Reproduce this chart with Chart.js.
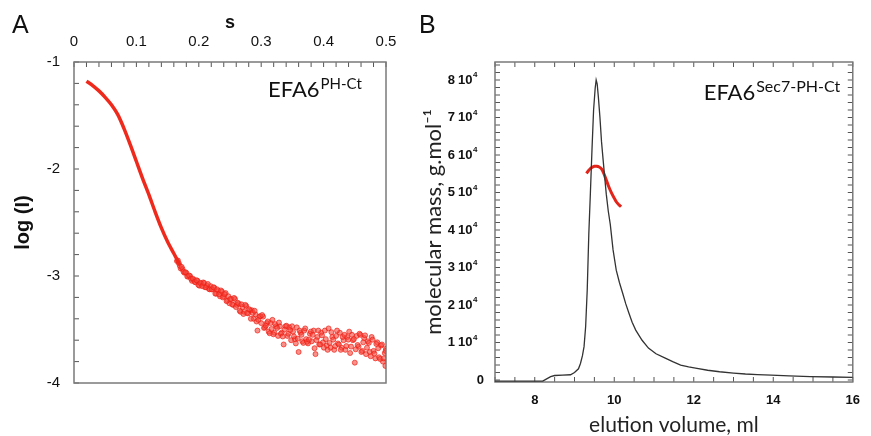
<!DOCTYPE html>
<html>
<head>
<meta charset="utf-8">
<script src="https://cdn.jsdelivr.net/npm/chart.js@4"></script>
<style>
  body { margin: 0; width: 871px; height: 436px; overflow: hidden; background: #fff; position: relative; }
  canvas { position: absolute; top: 0; }
  #chartA { left: 0; }
  #chartB { left: 420px; }
  .panel { position: absolute; font: 25px 'Liberation Sans', Arial, sans-serif; color: #111; }
</style>
</head>
<body>
<canvas id="chartA" width="410" height="436"></canvas>
<canvas id="chartB" width="451" height="440"></canvas>
<div class="panel" style="left:12px;top:10px">A</div>
<div class="panel" style="left:419px;top:10px">B</div>
<script>
// panel A - SAXS curve
const sTicks = [0, 0.1, 0.2, 0.3, 0.4, 0.5];
const logTicks = [-4, -3, -2, -1];

const sLine = [0.02, 0.03, 0.04, 0.05, 0.06, 0.07, 0.08, 0.09, 0.10, 0.11, 0.12, 0.13, 0.14, 0.15, 0.16, 0.17];
const logLine = [-1.18, -1.22, -1.27, -1.33, -1.40, -1.49, -1.62, -1.77, -1.93, -2.09, -2.24, -2.40, -2.55, -2.68, -2.79, -2.90];

const sDots = [
  0.165, 0.168, 0.171, 0.174, 0.177, 0.180, 0.183, 0.186, 0.189, 0.192,
  0.195, 0.198, 0.201, 0.204, 0.207, 0.210, 0.213, 0.216, 0.219, 0.222,
  0.225, 0.228, 0.231, 0.234, 0.237, 0.240, 0.243, 0.246, 0.249, 0.252,
  0.255, 0.258, 0.261, 0.264, 0.267, 0.270, 0.273, 0.276, 0.279, 0.282,
  0.285, 0.288, 0.291, 0.294, 0.297, 0.300, 0.303, 0.306, 0.309, 0.312,
  0.315, 0.318, 0.321, 0.324, 0.327, 0.330, 0.333, 0.336, 0.339, 0.342,
  0.345, 0.348, 0.351, 0.354, 0.357, 0.360, 0.363, 0.366, 0.369, 0.372,
  0.375, 0.378, 0.381, 0.384, 0.387, 0.390, 0.393, 0.396, 0.399, 0.402,
  0.405, 0.408, 0.411, 0.414, 0.417, 0.420, 0.423, 0.426, 0.429, 0.432,
  0.435, 0.438, 0.441, 0.444, 0.447, 0.450, 0.453, 0.456, 0.459, 0.462,
  0.465, 0.468, 0.471, 0.474, 0.477, 0.480, 0.483, 0.486, 0.489, 0.492,
  0.495, 0.498, 0.499, 0.500
];
const logDots = [
  -2.86, -2.88, -2.93, -2.935, -2.97, -2.97, -3.005, -3.00, -3.045, -3.035,
  -3.06, -3.045, -3.09, -3.07, -3.06, -3.105, -3.09, -3.12, -3.095, -3.125,
  -3.11, -3.165, -3.14, -3.19, -3.145, -3.19, -3.16, -3.23, -3.255, -3.215,
  -3.27, -3.215, -3.27, -3.26, -3.335, -3.29, -3.335, -3.28, -3.35, -3.32,
  -3.32, -3.40, -3.36, -3.51, -3.38, -3.44, -3.38, -3.48, -3.44, -3.52,
  -3.44, -3.41, -3.53, -3.47, -3.56, -3.47, -3.53, -3.64, -3.47, -3.56,
  -3.48, -3.60, -3.52, -3.59, -3.48, -3.71, -3.53, -3.61, -3.51, -3.59,
  -3.63, -3.54, -3.61, -3.51, -3.73, -3.57, -3.64, -3.53, -3.62, -3.51,
  -3.65, -3.49, -3.67, -3.57, -3.69, -3.56, -3.63, -3.53, -3.67, -3.60,
  -3.69, -3.57, -3.52, -3.66, -3.60, -3.81, -3.56, -3.66, -3.55, -3.70,
  -3.58, -3.73, -3.61, -3.71, -3.57, -3.70, -3.77, -3.62, -3.76, -3.65,
  -3.80, -3.72, -3.84, -3.68
];
// second, interleaved run of the same measurement
const sDots2 = [
  0.1665, 0.1695, 0.1725, 0.1755, 0.1785, 0.1815, 0.1845, 0.1875, 0.1905, 0.1935,
  0.1965, 0.1995, 0.2025, 0.2055, 0.2085, 0.2115, 0.2145, 0.2175, 0.2205, 0.2235,
  0.2265, 0.2295, 0.2325, 0.2355, 0.2385, 0.2415, 0.2445, 0.2475, 0.2505, 0.2535,
  0.2565, 0.2595, 0.2625, 0.2655, 0.2685, 0.2715, 0.2745, 0.2775, 0.2805, 0.2835,
  0.2865, 0.2895, 0.2925, 0.2955, 0.2985, 0.3015, 0.3045, 0.3075, 0.3105, 0.3135,
  0.3165, 0.3195, 0.3225, 0.3255, 0.3285, 0.3315, 0.3345, 0.3375, 0.3405, 0.3435,
  0.3465, 0.3495, 0.3525, 0.3555, 0.3585, 0.3615, 0.3645, 0.3675, 0.3705, 0.3735,
  0.3765, 0.3795, 0.3825, 0.3855, 0.3885, 0.3915, 0.3945, 0.3975, 0.4005, 0.4035,
  0.4065, 0.4095, 0.4125, 0.4155, 0.4185, 0.4215, 0.4245, 0.4275, 0.4305, 0.4335,
  0.4365, 0.4395, 0.4425, 0.4455, 0.4485, 0.4515, 0.4545, 0.4575, 0.4605, 0.4635,
  0.4665, 0.4695, 0.4725, 0.4755, 0.4785, 0.4815, 0.4845, 0.4875, 0.4905, 0.4935,
  0.4965, 0.4995
];
const logDots2 = [
  -2.855, -2.905, -2.915, -2.96, -2.965, -3.005, -2.995, -3.025, -3.025, -3.055,
  -3.04, -3.085, -3.065, -3.095, -3.065, -3.105, -3.075, -3.125, -3.125, -3.105,
  -3.165, -3.125, -3.17, -3.135, -3.20, -3.17, -3.235, -3.19, -3.215, -3.265,
  -3.205, -3.29, -3.25, -3.325, -3.265, -3.355, -3.27, -3.345, -3.31, -3.40,
  -3.345, -3.325, -3.425, -3.41, -3.375, -3.365, -3.485, -3.465, -3.425, -3.535,
  -3.495, -3.545, -3.45, -3.485, -3.435, -3.54, -3.565, -3.50, -3.465, -3.54,
  -3.505, -3.47, -3.565, -3.63, -3.585, -3.51, -3.55, -3.625, -3.49, -3.615,
  -3.595, -3.52, -3.55, -3.675, -3.60, -3.51, -3.64, -3.555, -3.67, -3.59,
  -3.69, -3.625, -3.525, -3.595, -3.655, -3.51, -3.64, -3.69, -3.57, -3.55,
  -3.655, -3.595, -3.72, -3.55, -3.59, -3.685, -3.645, -3.54, -3.71, -3.62,
  -3.555, -3.67, -3.625, -3.75, -3.595, -3.725, -3.635, -3.675, -3.775, -3.64,
  -3.77, -3.70
];

// panel B - SEC-MALS
const volTicks = [8, 10, 12, 14, 16];
const massTicks = [0, 10000, 20000, 30000, 40000, 50000, 60000, 70000, 80000];

const volUV = [7.0, 8.2, 8.3, 8.4, 8.5, 8.7, 8.9, 9.0, 9.1, 9.15, 9.2, 9.24, 9.28, 9.32, 9.36, 9.40, 9.44, 9.48, 9.52,
  9.545, 9.57, 9.60, 9.64, 9.68, 9.72, 9.76, 9.80, 9.85, 9.90, 9.97, 10.05, 10.13, 10.21, 10.29, 10.37, 10.45, 10.54,
  10.7, 10.86, 11.05, 11.27, 11.47, 11.67, 11.87, 12.08, 12.35, 12.65, 13.0, 13.3, 13.6, 13.95, 14.4, 14.93, 15.5, 16.0];
const uvSignal = [-300, -300, 300, 900, 1200, 1300, 1400, 2000, 3000, 4400, 6500, 8900, 14200, 24000, 39000, 50000, 61500, 72000, 77800,
  80000, 79000, 75500, 70000, 63500, 58700, 54000, 49500, 45000, 41500, 34700, 29300, 26000, 23200, 20300, 17800, 15400, 13300,
  10600, 8500, 7000, 5900, 4900, 4000, 3500, 3100, 2600, 2200, 1850, 1600, 1450, 1300, 1100, 900, 800, 700];

const volMass = [9.30, 9.35, 9.40, 9.44, 9.50, 9.56, 9.62, 9.68, 9.74, 9.80, 9.86, 9.93, 10.0, 10.06, 10.12, 10.17];
const molMass = [55100, 55800, 56400, 56700, 57000, 57000, 56800, 56300, 55000, 53300, 51600, 49900, 48500, 47400, 46700, 46200];

const pts = (xs, ys) => xs.map((x, i) => ({ x: x, y: ys[i] }));

// box around the plot area with inward ticks
const frameTicks = {
  id: 'frameTicks',
  beforeDatasetsDraw(chart, args, o) {
    const { ctx, chartArea: a } = chart;
    const xs = chart.scales.x, ys = chart.scales.y;
    ctx.save();
    ctx.strokeStyle = '#555';
    ctx.lineWidth = 1;
    ctx.beginPath();
    for (let v = Math.ceil(xs.min / o.xStep - 1e-6) * o.xStep; v <= xs.max + 1e-9; v += o.xStep) {
      const px = xs.getPixelForValue(v);
      if (o.sides.includes('top')) { ctx.moveTo(px, a.top); ctx.lineTo(px, a.top + o.len); }
      if (o.sides.includes('bottom')) { ctx.moveTo(px, a.bottom); ctx.lineTo(px, a.bottom - o.len); }
    }
    for (let v = Math.ceil(ys.min / o.yStep - 1e-6) * o.yStep; v <= ys.max + 1e-9; v += o.yStep) {
      const py = ys.getPixelForValue(v);
      if (o.sides.includes('left')) { ctx.moveTo(a.left, py); ctx.lineTo(a.left + o.len, py); }
      if (o.sides.includes('right')) { ctx.moveTo(a.right, py); ctx.lineTo(a.right - o.len, py); }
    }
    ctx.stroke();
    ctx.strokeStyle = '#7a7a7a';
    ctx.lineWidth = 1.5;
    ctx.strokeRect(a.left, a.top, a.right - a.left, a.bottom - a.top);
    ctx.restore();
  }
};

// "EFA6" with superscript construct name, placed in data coordinates
const construct = {
  id: 'construct',
  afterDraw(chart, args, o) {
    const { ctx } = chart;
    const x = chart.scales.x.getPixelForValue(o.x);
    const y = chart.scales.y.getPixelForValue(o.y);
    ctx.save();
    ctx.fillStyle = '#111';
    ctx.textBaseline = 'alphabetic';
    ctx.font = '22px Lato';
    ctx.fillText('EFA6', x, y);
    const w = ctx.measureText('EFA6').width;
    ctx.font = o.supSize + 'px Lato';
    ctx.fillText(o.sup, x + w + 1, y - 8);
    ctx.restore();
  }
};

// "8 10^4" style labels for the mass axis
const sciLabels = {
  id: 'sciLabels',
  afterDraw(chart, args, o) {
    if (!o.on) return;
    const { ctx } = chart;
    const ys = chart.scales.y;
    const left = chart.chartArea.left;
    ctx.save();
    ctx.fillStyle = '#111';
    ctx.textBaseline = 'middle';
    ctx.textAlign = 'left';
    ys.ticks.forEach(t => {
      const py = ys.getPixelForValue(t.value);
      const m = t.value / 10000;
      ctx.font = 'bold 13px "Liberation Sans"';
      if (m === 0) {
        ctx.fillText('0', left - 11 - ctx.measureText('0').width, py);
        return;
      }
      const a = m + '', b = '10';
      const wa = ctx.measureText(a).width, wb = ctx.measureText(b).width;
      ctx.font = 'bold 8px "Liberation Sans"';
      const ws = ctx.measureText('4').width;
      const x0 = left - 18 - (wa + 3 + wb + ws);
      ctx.font = 'bold 13px "Liberation Sans"';
      ctx.fillText(a, x0, py);
      ctx.fillText(b, x0 + wa + 3, py);
      ctx.font = 'bold 8px "Liberation Sans"';
      ctx.fillText('4', x0 + wa + 3 + wb + 0.5, py - 5);
    });
    ctx.restore();
  }
};

const setTicks = vals => scale => { scale.ticks = vals.map(v => ({ value: v })); };

new Chart(document.getElementById('chartA'), {
  type: 'scatter',
  data: {
    datasets: [{
      data: pts(sLine, logLine),
      showLine: true,
      borderColor: '#ef2a1c',
      borderWidth: 3.5,
      pointRadius: 0,
      tension: 0.3
    }, {
      data: pts(sDots, logDots).concat(pts(sDots2, logDots2)),
      pointRadius: 2.5,
      borderWidth: 0.8,
      borderColor: 'rgba(238, 30, 20, 0.85)',
      backgroundColor: 'rgba(245, 70, 60, 0.6)'
    }]
  },
  options: {
    responsive: false,
    animation: false,
    layout: { padding: { left: 0, top: 0, right: 24, bottom: 53 } },
    plugins: {
      legend: { display: false },
      tooltip: { enabled: false },
      frameTicks: { xStep: 0.02, yStep: 0.2, len: 5, sides: ['top', 'left'] },
      construct: { x: 0.311, y: -1.327, sup: 'PH-Ct', supSize: 15 },
      sciLabels: { on: false }
    },
    scales: {
      x: {
        type: 'linear', position: 'top', min: 0, max: 0.5,
        afterBuildTicks: setTicks(sTicks),
        afterFit: s => { s.height = 62; },
        grid: { display: false, drawTicks: false }, border: { display: false },
        ticks: { color: '#111', padding: 11, maxRotation: 0, autoSkip: false,
          font: { family: 'Liberation Sans', size: 15 }, callback: v => String(v) },
        title: { display: true, text: 's', color: '#111', padding: { top: 12, bottom: 0 },
          font: { family: 'Liberation Sans', size: 18, weight: 'bold' } }
      },
      y: {
        min: -4, max: -1,
        afterBuildTicks: setTicks(logTicks),
        afterFit: s => { s.width = 74; },
        grid: { display: false, drawTicks: false }, border: { display: false },
        ticks: { color: '#111', padding: 14, autoSkip: false,
          font: { family: 'Liberation Sans', size: 15 }, callback: v => String(v) },
        title: { display: true, text: 'log (I)', color: '#111', padding: { top: 11, bottom: 0 },
          font: { family: 'Liberation Sans', size: 20, weight: 'bold' } }
      }
    }
  },
  plugins: [frameTicks, construct, sciLabels]
});

new Chart(document.getElementById('chartB'), {
  type: 'scatter',
  data: {
    datasets: [{
      data: pts(volUV, uvSignal),
      showLine: true,
      borderColor: '#333',
      borderWidth: 1.3,
      pointRadius: 0
    }, {
      data: pts(volMass, molMass),
      showLine: true,
      borderColor: '#e3241a',
      borderWidth: 3,
      pointRadius: 0,
      tension: 0.3
    }]
  },
  options: {
    responsive: false,
    animation: false,
    layout: { padding: { left: 0, top: 62, right: 8, bottom: 0 } },
    plugins: {
      legend: { display: false },
      tooltip: { enabled: false },
      frameTicks: { xStep: 0.5, yStep: 2000, len: 5, sides: ['top', 'left', 'bottom', 'right'] },
      construct: { x: 12.25, y: 74700, sup: 'Sec7-PH-Ct', supSize: 16 },
      sciLabels: { on: true }
    },
    scales: {
      x: {
        type: 'linear', position: 'bottom', min: 7, max: 16,
        afterBuildTicks: setTicks(volTicks),
        afterFit: s => { s.height = 58; },
        grid: { display: false, drawTicks: false }, border: { display: false },
        ticks: { color: '#111', padding: 11, maxRotation: 0, autoSkip: false,
          font: { family: 'Liberation Sans', size: 13, weight: 'bold' }, callback: v => String(v) },
        title: { display: true, text: 'elution volume, ml', color: '#222', padding: { top: 0, bottom: 2 },
          font: { family: 'Lato', size: 21 } }
      },
      y: {
        min: -530, max: 84800,
        afterBuildTicks: setTicks(massTicks),
        afterFit: s => { s.width = 75; },
        grid: { display: false, drawTicks: false }, border: { display: false },
        ticks: { display: false },
        title: { display: true, text: 'molecular mass, g.mol\u207B\u00B9', color: '#222', padding: { top: 1, bottom: 0 },
          font: { family: 'Lato', size: 22 } }
      }
    }
  },
  plugins: [frameTicks, construct, sciLabels]
});
</script>
</body>
</html>
